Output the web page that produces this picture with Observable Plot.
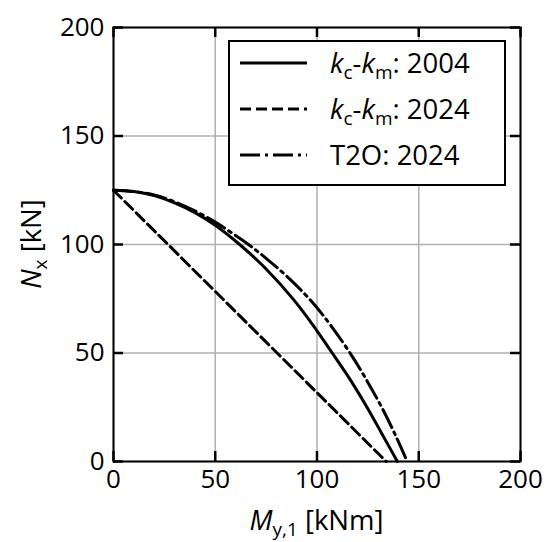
<!DOCTYPE html>
<html>
<head>
<meta charset="utf-8">
<script src="https://cdn.jsdelivr.net/npm/d3@7"></script>
<script src="https://cdn.jsdelivr.net/npm/@observablehq/plot@0.6"></script>
<style>
  html, body { margin: 0; padding: 0; background: white; }
  #chart svg { display: block; }
</style>
</head>
<body>
<div id="chart"></div>
<script>
// ---- data ----
const xTicks = [0, 50, 100, 150, 200];
const yTicks = [0, 50, 100, 150, 200];

// k_c-k_m : 2004 (solid)
const solidM = [0, 10, 20, 30, 40, 50, 62, 75, 88.6, 98, 107.5, 116, 124.7, 132, 139.5];
const solidN = [125, 124.4, 122.5, 119.2, 114.7, 108.9, 100, 88.7, 74.5, 62.9, 50, 38.2, 24.8, 12.6, 0];

// k_c-k_m : 2024 (dashed)
const dashedM = [0, 134];
const dashedN = [125, 0];

// T2O : 2024 (dash-dot)
const dashdotM = [0, 10, 20, 30, 40, 50, 58, 66.5, 75, 86, 97.6, 107, 116.5, 124.5, 132, 138.5, 144.3];
const dashdotN = [125, 124.4, 122.8, 119.7, 115.5, 110.3, 105.4, 99.9, 93.6, 84.6, 73.5, 62.4, 49.6, 37.3, 24.6, 12.2, 0];

const seriesLabels = [
  {main: "k", sub1: "c", mid: "-", main2: "k", sub2: "m", rest: ": 2004", dash: null},
  {main: "k", sub1: "c", mid: "-", main2: "k", sub2: "m", rest: ": 2024", dash: "11,5"},
  {plain: "T2O: 2024", dash: "20,5,3,5"}
];

const toRows = (ms, ns) => ms.map((m, i) => ({m, n: ns[i]}));

const FONT = "'Open Sans', 'Noto Sans', sans-serif";
const FS = 26;      // tick labels
const LFS = 27.5;   // axis labels and legend
const SFS = 19;     // subscripts
const W = 552, H = 542, ML = 113, MR = 32, MT = 27, MB = 81;
const TK = 10;
const frameW = W - ML - MR, frameH = H - MT - MB;

const chart = Plot.plot({
  width: W,
  height: H,
  marginLeft: ML,
  marginRight: MR,
  marginTop: MT,
  marginBottom: MB,
  style: {fontFamily: FONT, fontSize: FS + "px", color: "black", background: "white"},
  x: {domain: [0, 200]},
  y: {domain: [0, 200]},
  marks: [
    Plot.gridX(xTicks, {stroke: "#b0b0b0", strokeOpacity: 1, strokeWidth: 1.5}),
    Plot.gridY(yTicks, {stroke: "#b0b0b0", strokeOpacity: 1, strokeWidth: 1.5}),
    // tick labels
    Plot.axisX(xTicks, {anchor: "bottom", tickSize: 0, tickPadding: 8, label: null, fontSize: FS}),
    Plot.axisY(yTicks, {anchor: "left", tickSize: 0, tickPadding: 9, label: null, fontSize: FS}),
    // inward ticks on all four sides
    Plot.ruleX(xTicks, {x: d => d, stroke: "black", strokeWidth: 2.5, insetTop: frameH - TK}),
    Plot.ruleX(xTicks, {x: d => d, stroke: "black", strokeWidth: 2.5, insetBottom: frameH - TK}),
    Plot.ruleY(yTicks, {y: d => d, stroke: "black", strokeWidth: 2.5, insetRight: frameW - TK}),
    Plot.ruleY(yTicks, {y: d => d, stroke: "black", strokeWidth: 2.5, insetLeft: frameW - TK}),
    Plot.line(toRows(solidM, solidN), {x: "m", y: "n", stroke: "black", strokeWidth: 3, curve: "catmull-rom"}),
    Plot.line(toRows(dashedM, dashedN), {x: "m", y: "n", stroke: "black", strokeWidth: 3, strokeDasharray: "11,5"}),
    Plot.line(toRows(dashdotM, dashdotN), {x: "m", y: "n", stroke: "black", strokeWidth: 3, strokeDasharray: "20,5,3,5", curve: "catmull-rom"}),
    Plot.frame({stroke: "black", strokeWidth: 2})
  ]
});

document.getElementById("chart").appendChild(chart);

// ---- axis labels and legend (text with sub-scripts) ----
const svgSel = d3.select(chart);
const xsc = chart.scale("x"), ysc = chart.scale("y");
const pLeft = xsc.range[0], pRight = xsc.range[1];
const pBottom = ysc.range[0], pTop = ysc.range[1];

function richText(g, parts, anchor) {
  const t = g.append("text").attr("font-family", FONT).attr("font-size", LFS)
    .attr("fill", "black").attr("text-anchor", anchor);
  parts.forEach(p => {
    const ts = t.append("tspan").text(p.t);
    if (p.i) ts.attr("font-style", "italic");
    if (p.sub) ts.attr("font-size", SFS).attr("dy", 6);
    if (p.up) ts.attr("dy", -6);
  });
  return t;
}

// x label
const gxl = svgSel.append("g");
richText(gxl, [{t: "M", i: true}, {t: "y,1", sub: true}, {t: " [kNm]", up: true}], "middle")
  .attr("x", (pLeft + pRight) / 2).attr("y", 530);

// y label
const gyl = svgSel.append("g").attr("transform", `translate(41,${(pTop + pBottom) / 2}) rotate(-90)`);
richText(gyl, [{t: "N", i: true}, {t: "x", sub: true}, {t: " [kN]", up: true}], "middle")
  .attr("x", 0).attr("y", 0);

// legend
const lg = svgSel.append("g").attr("transform", `translate(${pRight - 15 - 276},${pTop + 14})`);
lg.append("rect").attr("width", 276).attr("height", 144).attr("fill", "white").attr("stroke", "black").attr("stroke-width", 2);
seriesLabels.forEach((s, i) => {
  const yy = 22 + i * 46;
  const ln = lg.append("line").attr("x1", 11).attr("x2", 78).attr("y1", yy).attr("y2", yy)
    .attr("stroke", "black").attr("stroke-width", 3);
  if (s.dash) ln.attr("stroke-dasharray", s.dash);
  const g = lg.append("g");
  let t;
  if (s.plain) {
    t = richText(g, [{t: s.plain}], "start");
  } else {
    t = richText(g, [
      {t: s.main, i: true}, {t: s.sub1, sub: true}, {t: s.mid, up: true},
      {t: s.main2, i: true}, {t: s.sub2, sub: true}, {t: s.rest, up: true}
    ], "start");
  }
  t.attr("x", 101).attr("y", yy + 9.5);
});
</script>
</body>
</html>
